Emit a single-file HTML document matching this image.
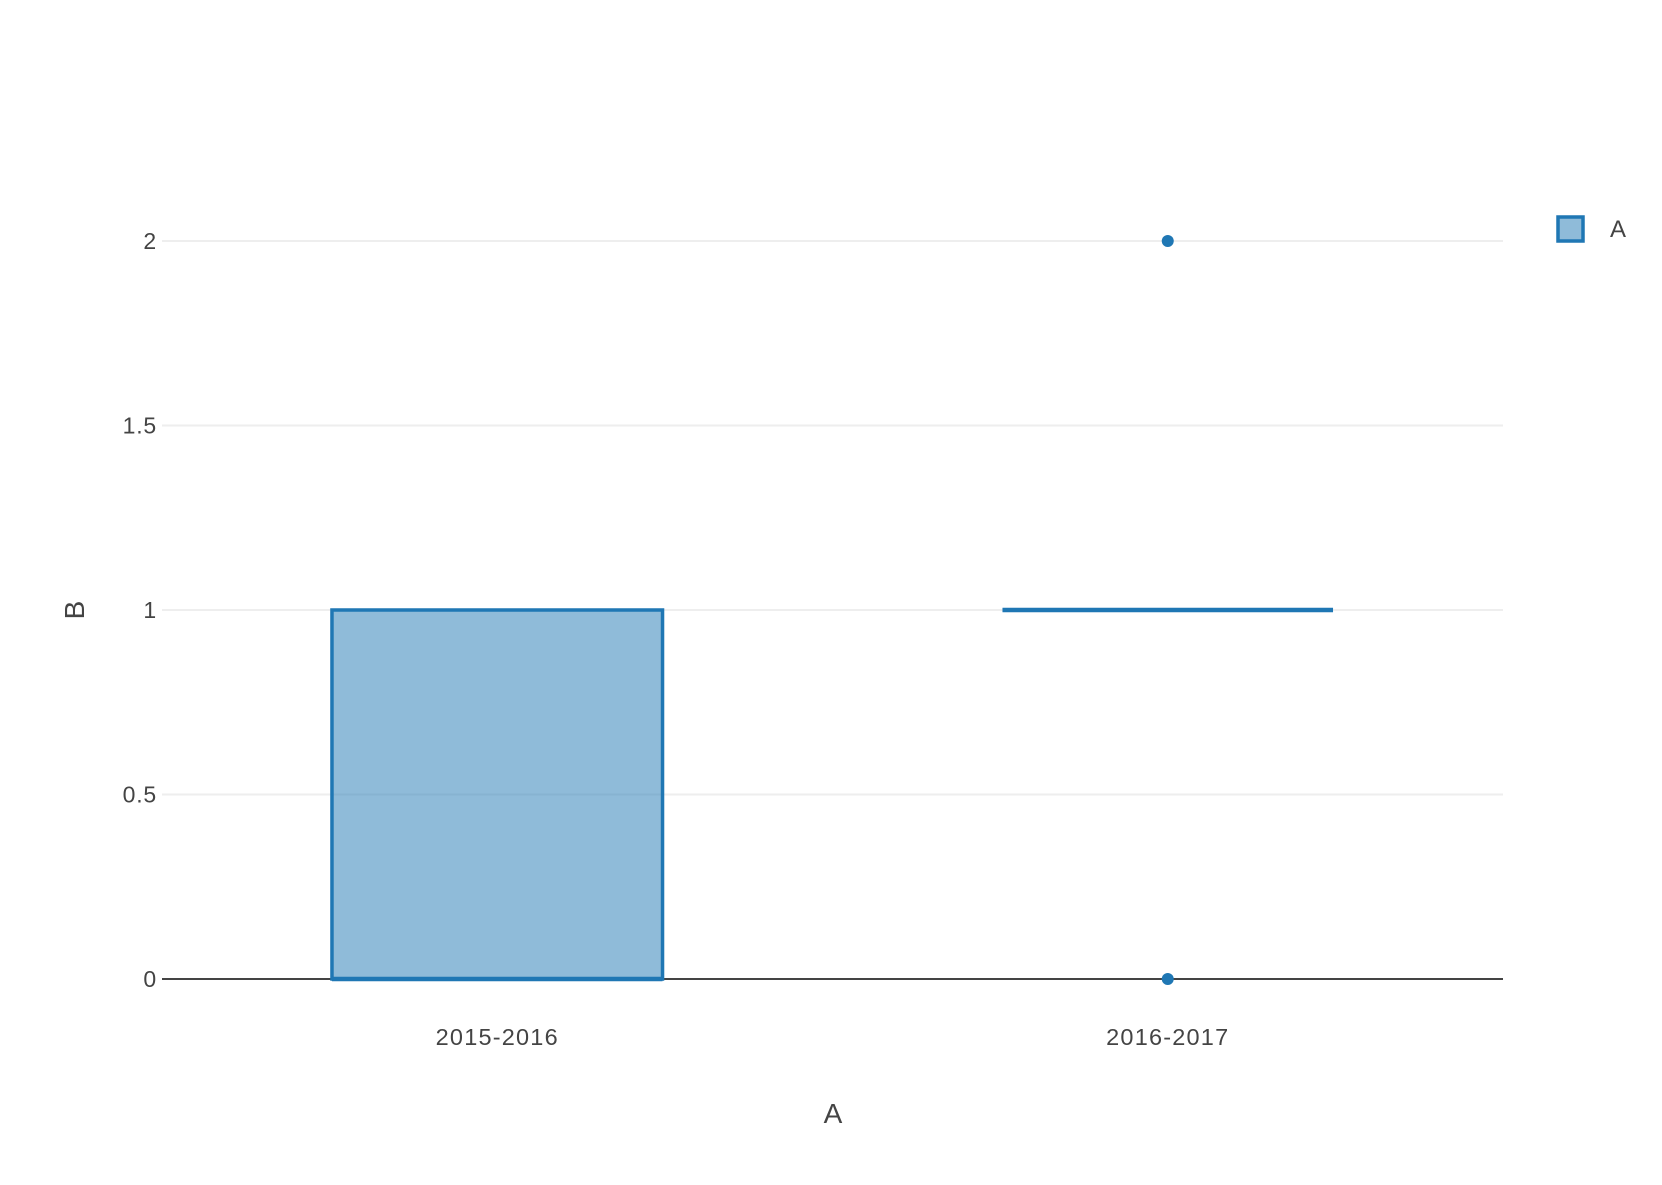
<!DOCTYPE html>
<html><head><meta charset="utf-8"><style>
body{margin:0;background:#fff;}
svg text{font-family:"Liberation Sans",sans-serif;fill:#444;}
</style></head><body>
<svg id="chart" width="1662" height="1180"></svg>
<script>
const categories=["2015-2016","2016-2017"];
const q1Values=[0,1];
const medianValues=[0,1];
const q3Values=[1,1];
const lowerWhiskers=[0,1];
const upperWhiskers=[1,1];
const outlierValues=[[],[0,2]];
const yTicks=[0,0.5,1,1.5,2];
const yTickLabels=["0","0.5","1","1.5","2"];

const NS="http://www.w3.org/2000/svg";
const svg=document.getElementById('chart');
const L=162,R=1503,yMin=0,yMax=2,Y0=979,Y2=241;
const y=v=>Y0+(v-yMin)*(Y2-Y0)/(yMax-yMin);
const band=(R-L)/categories.length;
const xc=i=>L+band*(i+0.5);
function mk(t,a){const e=document.createElementNS(NS,t);for(const k in a)e.setAttribute(k,a[k]);svg.appendChild(e);return e;}
yTicks.forEach((v,i)=>{
  if(v!==0){const g=mk('line',{x1:L,x2:R,y1:y(v),y2:y(v),stroke:'#eee','stroke-width':2});
  
  }
  const t=mk('text',{x:157,y:y(v)+8,'text-anchor':'end','font-size':23,'letter-spacing':0.8});
  t.textContent=yTickLabels[i];
  
  
});
const zl=mk('line',{x1:L,x2:R,y1:y(0),y2:y(0),stroke:'#444','stroke-width':2});


const bw=band*0.493;
categories.forEach((c,i)=>{
  const cx=xc(i);
  const g=document.createElementNS(NS,'g');svg.appendChild(g);
  
  
  const add=(t,a)=>{const e=document.createElementNS(NS,t);for(const k in a)e.setAttribute(k,a[k]);g.appendChild(e);return e;};
  add('rect',{x:cx-bw/2,y:y(q3Values[i]),width:bw,height:Math.max(0,y(q1Values[i])-y(q3Values[i])),fill:'rgba(31,119,180,0.5)',stroke:'#1f77b4','stroke-width':3.5});
  add('line',{x1:cx-bw/2,x2:cx+bw/2,y1:y(medianValues[i]),y2:y(medianValues[i]),stroke:'#1f77b4','stroke-width':4.5});
  add('line',{x1:cx,x2:cx,y1:y(q3Values[i]),y2:y(upperWhiskers[i]),stroke:'#1f77b4','stroke-width':3});
  add('line',{x1:cx,x2:cx,y1:y(q1Values[i]),y2:y(lowerWhiskers[i]),stroke:'#1f77b4','stroke-width':3});
  outlierValues[i].forEach(v=>{
    const p=mk('circle',{cx:cx,cy:y(v),r:6,fill:'#1f77b4'});
    
    
  });
  const t=mk('text',{x:cx,y:1045,'text-anchor':'middle','font-size':23.5,'letter-spacing':1.2});
  t.textContent=c;
  
  
});
</script>
<svg style="position:absolute;left:0;top:0" width="1662" height="1180">
<text x="833" y="1123" text-anchor="middle" font-size="28">A</text>
<text x="0" y="0" text-anchor="middle" font-size="28" transform="translate(84,610) rotate(-90)">B</text>
<g>
<rect x="1558" y="217" width="25" height="24" fill="rgba(31,119,180,0.5)" stroke="#1f77b4" stroke-width="3.5"/>
<text x="1610" y="237" font-size="24">A</text>
</g>
</svg>
</body></html>
